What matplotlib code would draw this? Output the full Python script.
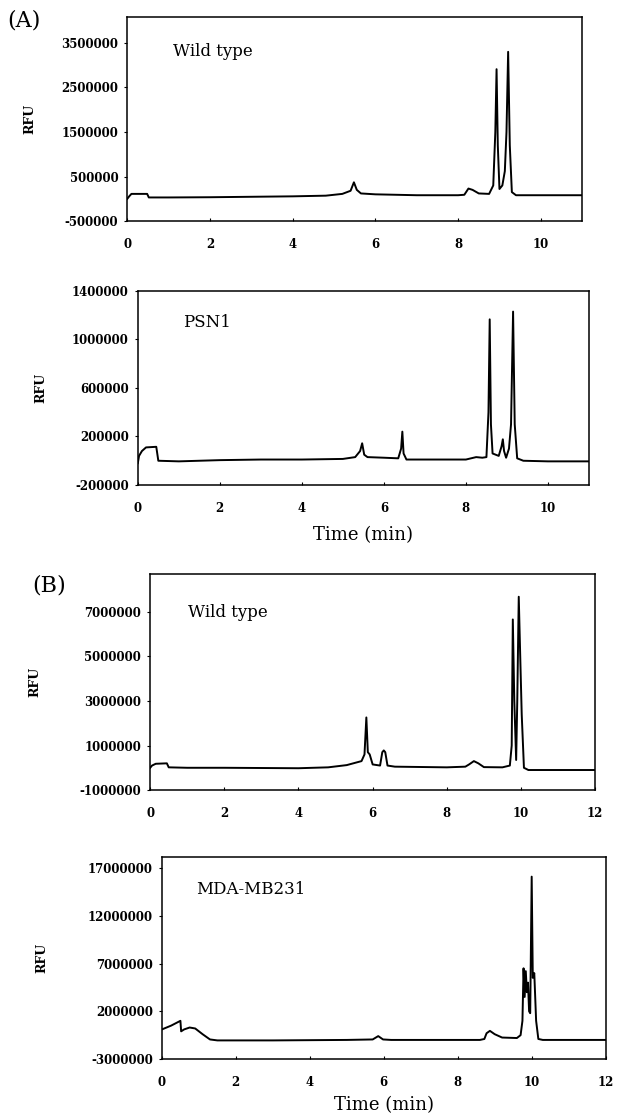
import matplotlib
matplotlib.use("Agg")
import matplotlib.pyplot as plt

# (A) wild type
a_wt_t = [0.0, 0.05, 0.10, 0.48, 0.52, 1.0, 2.0, 3.0, 4.0, 4.8, 5.2, 5.4, 5.48, 5.55, 5.65,
          6.0, 6.5, 7.0, 8.0, 8.15, 8.25, 8.35, 8.5, 8.75, 8.85, 8.90, 8.93, 8.96, 9.0, 9.07,
          9.13, 9.17, 9.21, 9.25, 9.3, 9.4, 10.0, 11.0]
a_wt_v = [0, 60000, 110000, 110000, 30000, 30000, 35000, 45000, 55000, 70000, 110000, 180000,
          370000, 200000, 120000, 100000, 90000, 80000, 80000, 90000, 230000, 200000, 120000,
          110000, 300000, 1500000, 2910000, 1200000, 220000, 300000, 620000, 1500000, 3300000,
          1200000, 150000, 80000, 80000, 80000]

# (A) PSN1
a_psn_t = [0.0, 0.03, 0.1, 0.2, 0.45, 0.5, 1.0, 2.0, 3.0, 4.0, 5.0, 5.3, 5.42, 5.47, 5.52, 5.6,
           6.0, 6.35, 6.42, 6.45, 6.48, 6.55, 7.0, 8.0, 8.25, 8.4, 8.5, 8.55, 8.58, 8.61, 8.65,
           8.8, 8.87, 8.9, 8.93, 8.98, 9.05, 9.1, 9.15, 9.19, 9.25, 9.4, 10.0, 11.0]
a_psn_v = [-20000, 40000, 80000, 110000, 115000, 0, -5000, 5000, 10000, 10000, 15000, 30000,
           80000, 144000, 50000, 30000, 25000, 20000, 100000, 240000, 60000, 10000, 10000,
           10000, 30000, 25000, 30000, 400000, 1166000, 300000, 60000, 40000, 120000, 177000,
           80000, 25000, 100000, 300000, 1230000, 300000, 20000, 0, -5000, -5000]

# (B) wild type
b_wt_t = [0.0, 0.05, 0.15, 0.45, 0.5, 1.0, 2.0, 3.0, 4.0, 4.8, 5.3, 5.7, 5.78, 5.83, 5.87, 5.92,
          6.0, 6.2, 6.26, 6.3, 6.34, 6.4, 6.6, 8.0, 8.5, 8.6, 8.73, 8.85, 9.0, 9.5, 9.7, 9.75,
          9.78, 9.82, 9.87, 9.9, 9.94, 9.98, 10.02, 10.08, 10.2, 12.0]
b_wt_v = [0, 100000, 180000, 200000, 20000, 0, 0, -10000, -20000, 20000, 120000, 300000,
          600000, 2260000, 700000, 600000, 150000, 100000, 700000, 780000, 700000, 100000,
          50000, 20000, 50000, 150000, 300000, 200000, 30000, 20000, 100000, 1000000, 6660000,
          3000000, 350000, 3000000, 7680000, 5000000, 2400000, 0, -100000, -100000]

# (B) MDA-MB231
b_mda_t = [0.0, 0.25, 0.5, 0.52, 0.6, 0.75, 0.9, 1.1, 1.3, 1.5, 3.0, 5.0, 5.7, 5.85, 5.98, 6.2,
           8.6, 8.72, 8.78, 8.87, 9.0, 9.2, 9.6, 9.7, 9.75, 9.78, 9.81, 9.84, 9.87, 9.9, 9.93,
           9.96, 10.0, 10.03, 10.07, 10.12, 10.18, 10.3, 12.0]
b_mda_v = [100000, 500000, 1000000, -100000, 100000, 300000, 200000, -400000, -950000, -1050000,
           -1050000, -1000000, -950000, -600000, -950000, -1000000, -1000000, -900000, -300000,
           -50000, -400000, -750000, -800000, -500000, 1000000, 6500000, 3500000, 6200000,
           4000000, 5000000, 2000000, 1800000, 16100000, 5500000, 6000000, 1000000, -900000,
           -1000000, -1000000]

a_xticks = [0, 2, 4, 6, 8, 10]
b_xticks = [0, 2, 4, 6, 8, 10, 12]
a_wt_yticks = [-500000, 500000, 1500000, 2500000, 3500000]
a_psn_yticks = [-200000, 200000, 600000, 1000000, 1400000]
b_wt_yticks = [-1000000, 1000000, 3000000, 5000000, 7000000]
b_mda_yticks = [-3000000, 2000000, 7000000, 12000000, 17000000]

serif = "DejaVu Serif"
fig = plt.figure(figsize=(6.18, 11.17), dpi=100)

panels = [
    # rect, t, v, xlim, ylim, xticks, yticks, name, name pos, ylabel x, xlabel pad
    ([0.206, 0.8021, 0.736, 0.1826], a_wt_t, a_wt_v, (0, 11), (-500000, 4080000),
     a_xticks, a_wt_yticks, "Wild type", (0.10, 0.83), -0.20, None),
    ([0.223, 0.5658, 0.730, 0.1737], a_psn_t, a_psn_v, (0, 11), (-200000, 1400000),
     a_xticks, a_psn_yticks, "PSN1", (0.10, 0.835), -0.20, 8),
    ([0.243, 0.2927, 0.720, 0.1934], b_wt_t, b_wt_v, (0, 12), (-1000000, 8700000),
     b_xticks, b_wt_yticks, "Wild type", (0.085, 0.82), -0.245, None),
    ([0.262, 0.0519, 0.718, 0.1808], b_mda_t, b_mda_v, (0, 12), (-3000000, 18150000),
     b_xticks, b_mda_yticks, "MDA-MB231", (0.077, 0.837), -0.255, 5),
]

for rect, t, v, xl, yl, xt, yt, name, npos, ylx, xpad in panels:
    ax = fig.add_axes(rect)
    ax.plot(t, v, color="black", lw=1.4)
    ax.set_xlim(*xl)
    ax.set_ylim(*yl)
    ax.set_xticks(xt)
    ax.set_xticklabels([str(x) for x in xt], family=serif, fontweight="bold", fontsize=8.5)
    ax.set_yticks(yt)
    ax.set_yticklabels([str(y) for y in yt], family=serif, fontweight="bold", fontsize=8.5)
    ax.tick_params(axis="x", direction="in", length=2.5, width=0.8, pad=12)
    ax.tick_params(axis="y", direction="out", length=2.5, width=0.8, pad=4)
    for s in ax.spines.values():
        s.set_linewidth(1.1)
    ax.set_ylabel("RFU", family=serif, fontweight="bold", fontsize=9)
    ax.yaxis.set_label_coords(ylx, 0.5)
    ax.text(npos[0], npos[1], name, transform=ax.transAxes, family=serif,
            fontsize=12, va="center", ha="left")
    if xpad is not None:
        ax.set_xlabel("Time (min)", family=serif, fontsize=13, labelpad=xpad)

fig.text(0.012, 0.982, "(A)", family=serif, fontsize=16, va="center", ha="left")
fig.text(0.052, 0.476, "(B)", family=serif, fontsize=16, va="center", ha="left")

fig.savefig("out.png", dpi=100)
